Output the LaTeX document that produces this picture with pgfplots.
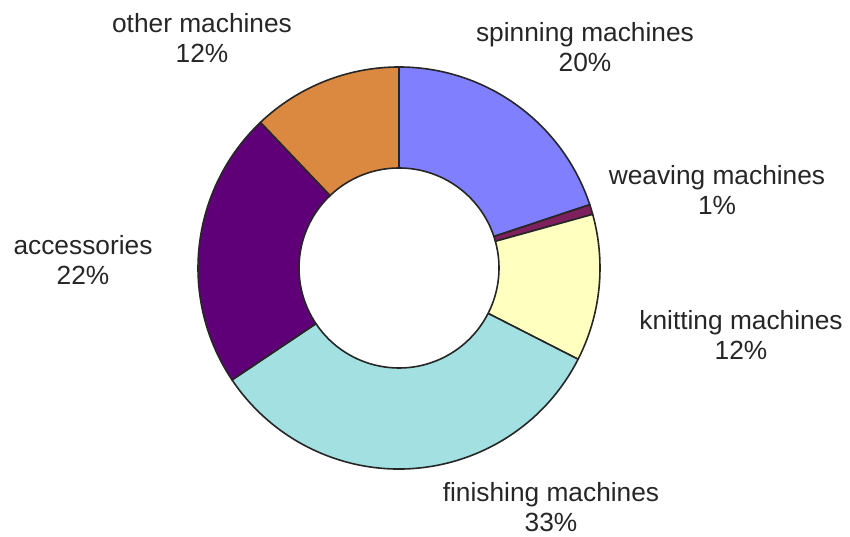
\documentclass[border=0pt]{standalone}
\usepackage{pgfplots}
\usepackage{pgfplotstable}
\pgfplotsset{compat=1.18}
\usepackage{fontspec}
\setmainfont{Liberation Sans}
\definecolor{cspin}{HTML}{8080FF}
\definecolor{cweave}{HTML}{7E1F5E}
\definecolor{cknit}{HTML}{FFFFC0}
\definecolor{cfinish}{HTML}{A2E0E1}
\definecolor{cacc}{HTML}{600078}
\definecolor{cother}{HTML}{DB8840}
\pgfplotstableread{
value color
19.9 cspin
0.8 cweave
11.8 cknit
33.1 cfinish
22.3 cacc
12.1 cother
}\slices
\begin{document}
\begin{tikzpicture}
\begin{axis}[x=1pt,y=1pt,xmin=0,xmax=850,ymin=0,ymax=537,hide axis,clip=false,
  anchor=south west, at={(0,0)}]
\def\cx{399}\def\cy{269}
\gdef\acc{90}
\pgfplotsforeachungrouped \i in {0,...,5}{%
  \pgfplotstablegetelem{\i}{value}\of\slices \let\v\pgfplotsretval
  \pgfplotstablegetelem{\i}{color}\of\slices \let\c\pgfplotsretval
  \pgfmathsetmacro{\aend}{\acc-3.6*\v}%
  \edef\temp{\noexpand\filldraw[fill=\c, draw=black!85, line width=1.6pt, line join=round]
    (axis cs:{\cx+201*cos(\acc)},{\cy+201*sin(\acc)}) arc[start angle=\acc, end angle=\aend, radius=201pt]
    -- (axis cs:{\cx+100*cos(\aend)},{\cy+100*sin(\aend)}) arc[start angle=\aend, end angle=\acc, radius=100pt] -- cycle;}%
  \temp
  \xdef\acc{\aend}%
}
\tikzset{lab/.style={align=center, font=\fontsize{26.3}{30}\selectfont, text=black!85, inner sep=0pt}}
\node[lab] at (axis cs:585,490) {spinning machines\\20\%};
\node[lab] at (axis cs:717,347) {weaving machines\\1\%};
\node[lab] at (axis cs:741,202) {knitting machines\\12\%};
\node[lab] at (axis cs:551,30) {finishing machines\\33\%};
\node[lab] at (axis cs:83,277) {accessories\\22\%};
\node[lab] at (axis cs:202,499) {other machines\\12\%};
\end{axis}
\pgfresetboundingbox
\path (0,0) rectangle (850pt,537pt);
\end{tikzpicture}
\end{document}
